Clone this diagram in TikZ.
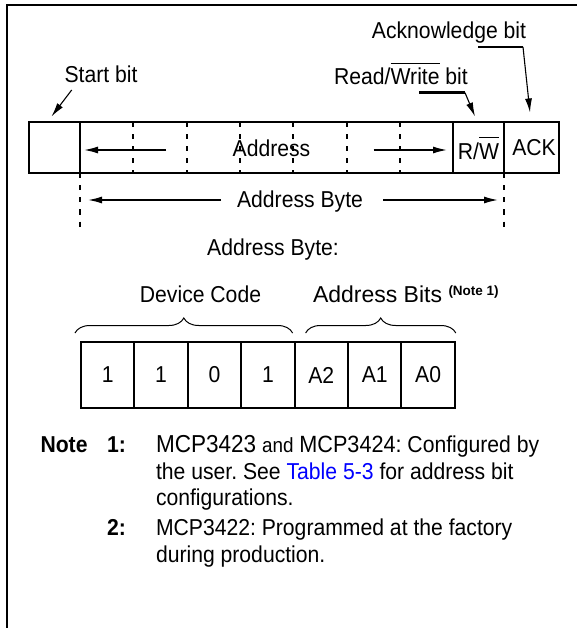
\documentclass[tikz,border=0pt]{standalone}
\usepackage{fontspec}
\setmainfont{Liberation Sans}[FakeStretch=0.92]
\newfontfamily\widefont{Liberation Sans}
\usetikzlibrary{arrows.meta,decorations.pathreplacing,calc}
\newcommand{\ovl}[2]{\leavevmode\setbox0\hbox{#2}\rlap{\rule[#1]{\wd0}{1.2pt}}\box0\relax}
\newcommand{\fs}{\fontsize{23}{27}\selectfont}
\begin{document}
\frenchspacing
\begin{tikzpicture}[x=1pt,y=-1pt,
  lbl/.style={inner sep=0pt, outer sep=0pt, font=\fs, anchor=base},
  note/.style={inner sep=0pt, outer sep=0pt, font=\fs, anchor=base west},
  cell/.style={draw, line width=2pt, inner sep=0pt, outer sep=0pt, anchor=north west, font=\fs},
  arr/.style={line width=1.5pt, -{Latex[length=14pt,width=7pt]}},
  thinarr/.style={line width=1.1pt, -{Latex[length=14pt,width=7pt]}},
  leader/.style={line width=2.5pt},
  sep/.style={line width=2pt, dash pattern=on 5pt off 7pt},
  brc/.style={line width=1pt, decorate, decoration={brace, amplitude=15pt}},
]
\useasboundingbox (0,0) rectangle (576,628);
\draw[line width=2.3pt] (7,640) -- (7,5) -- (590,5);

% top frame
\node[cell, minimum width=51pt, minimum height=51pt] (start) at (29,122.5) {};
\node[cell, minimum width=373pt, minimum height=51pt] (addr) at (80,122.5) {};
\node[cell, minimum width=51pt, minimum height=51pt] (rw) at (453,122.5) {R/\ovl{0.92em}{W}};
\node[cell, minimum width=55pt, minimum height=51pt, text width=55pt, align=center] (ack) at (504,122.5) {\hspace*{5pt}ACK};
\foreach \i in {1,...,6} \draw[sep] ($(addr.north west)+(\i*53.3,0)$) -- ++(0,51);

\node[lbl] (addrt) at (271.5,157) {Address};
\coordinate (alt) at (166,150);
\coordinate (art) at (373.5,150);
\draw[arr, shorten >=4pt] (alt) -- (alt -| addr.west);
\draw[arr, shorten >=6pt] (art) -- (art -| addr.east);

% extension lines and Address Byte
\draw[sep] (addr.south west) -- ++(0,55);
\draw[sep] (rw.south east) -- ++(0,55);
\node[lbl] (abt) at (300,207.5) {Address Byte};
\coordinate (abL) at (221,200);
\coordinate (abR) at (383,200);
\draw[arr, shorten >=8pt] (abL) -- (abL -| addr.west);
\draw[arr, shorten >=6pt] (abR) -- (abR -| rw.east);

% callouts
\node[lbl] (sbt) at (101,83) {Start bit};
\coordinate (sba) at (71.7,90);
\draw[thinarr] (sba) -- ([xshift=-3pt,yshift=6pt]start.north);

\node[lbl] (ackt) at (449,39) {Acknowledge bit};
\coordinate (ackl) at (478,47);
\coordinate (ackk) at (523,47);
\draw[leader] (ackl) -- (ackk);
\draw[thinarr] (ackk) -- ([xshift=-1.5pt,yshift=10pt]ack.north);

\node[lbl] (rwt) at (401,85) {Read/\ovl{0.92em}{Write} bit};
\coordinate (rwl) at (419,92.7);
\coordinate (rwk) at (465,92.7);
\draw[leader] (rwl) -- (rwk);
\draw[thinarr] (rwk) -- ([xshift=-3.5pt,yshift=6pt]rw.north);

% address byte breakdown
\node[lbl] (abh) at (273,255.5) {Address Byte:};
\node[lbl] (dct) at (200.5,302.5) {Device Code};
\node[lbl, anchor=base west, font=\widefont\fs] (abits) at (313,302.5) {Address Bits \raisebox{7pt}{\fontsize{13.5}{15}\selectfont\bfseries (Note 1)}};

\foreach \t [count=\i] in {1,1,0,1,A2,A1,A0}
  \node[cell, minimum width=53.4pt, minimum height=66pt] (c\i) at ({81+(\i-1)*53.4},342) {\t};

\draw[brc] ([xshift=-6pt,yshift=9pt]c1.north west) -- ([xshift=-2pt,yshift=9pt]c4.north east);
\draw[brc] ([xshift=11pt,yshift=9pt]c5.north west) -- ([xshift=1pt,yshift=9pt]c7.north east);

% notes
\node[note, font=\fs\bfseries] (nt) at (40.5,452.5) {Note};
\node[note, font=\fs\bfseries] (n1) at (107,452.5) {1:};
\node[note] (l1) at (156,452.5) {{\fontsize{24.5}{27}\selectfont MCP3423} {\fontsize{20.5}{27}\selectfont and} {\fontsize{23.5}{27}\selectfont MCP3424:} Configured by};
\node[note] (l2) at (156,479.5) {the user. See \textcolor[rgb]{0,0,1}{Table 5-3} for address bit};
\node[note] (l3) at (156,505.5) {configurations.};
\node[note, font=\fs\bfseries] (n2) at (107,535.5) {2:};
\node[note] (l4) at (156,535.5) {MCP3422: Programmed at the factory};
\node[note] (l5) at (156,562.5) {during production.};
\end{tikzpicture}
\end{document}
